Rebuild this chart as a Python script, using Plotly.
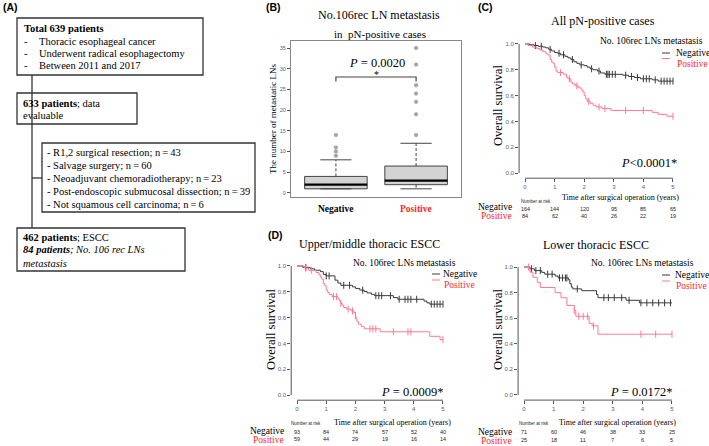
import plotly.graph_objects as go

W, H = 709, 446
SERIF = "Liberation Serif, Times New Roman, serif"
SANS = "Liberation Sans, Arial, sans-serif"
NEG_COL = "#3a3a3a"
POS_LINE = "#ff7a90"
POS_TXT = "#ff1f2f"
TICK_COL = "#506070"
AX_COL = "#555555"

# ---------------- data ----------------
# Panel B: number of metastatic LNs
categories = ["Negative", "Positive"]
box_q1 = [1, 2]
box_median = [2, 3]
box_q3 = [4, 6.5]
whisker_low = [1, 1]
whisker_high = [8, 12]
outliers_neg = [9, 10, 11, 14]
outliers_pos = [14, 19, 22, 24, 26, 31, 35]
b_yticks = [0, 5, 10, 15, 20, 25, 30, 35]

# KM time axis
time_ticks = [0, 1, 2, 3, 4, 5]
surv_ticks = [0.0, 0.2, 0.4, 0.6, 0.8, 1.0]

# Panel C: all pN-positive
c_neg_t = [0, 0.15, 0.3, 0.45, 0.6, 0.7, 0.8, 0.9, 1.0, 1.1, 1.2, 1.35, 1.45, 1.55, 1.65, 1.75, 1.85, 2.0, 2.1, 2.2,
           2.3, 2.45, 2.55, 2.7, 3.3, 3.5, 3.7, 3.9, 4.3, 4.5, 5.0]
c_neg_s = [1.0, 0.994, 0.988, 0.982, 0.976, 0.97, 0.958, 0.946, 0.934, 0.928, 0.916, 0.904, 0.892, 0.88, 0.862, 0.85,
           0.838, 0.832, 0.82, 0.808, 0.80, 0.79, 0.775, 0.765, 0.758, 0.748, 0.74, 0.73, 0.722, 0.712, 0.712]
c_neg_cens = [0.35, 0.55, 0.85, 1.15, 1.3, 1.6, 1.9, 2.25, 2.5, 2.75, 2.8, 2.85, 2.95, 3.05, 3.4, 3.6, 3.8, 4.0, 4.1,
              4.2, 4.4, 4.6, 4.7, 4.8, 4.9, 5.0]
c_pos_t = [0, 0.1, 0.25, 0.4, 0.5, 0.6, 0.7, 0.75, 0.85, 0.9, 0.95, 1.0, 1.05, 1.1, 1.3, 1.4, 1.45, 1.55, 1.6, 1.7,
           1.8, 1.9, 1.95, 2.0, 2.05, 2.1, 2.2, 2.3, 2.4, 2.6, 2.9, 4.3, 4.5, 4.8, 5.0]
c_pos_s = [1.0, 0.988, 0.976, 0.964, 0.952, 0.94, 0.928, 0.916, 0.88, 0.86, 0.85, 0.82, 0.79, 0.778, 0.766, 0.742,
           0.73, 0.705, 0.69, 0.675, 0.66, 0.645, 0.63, 0.60, 0.575, 0.555, 0.54, 0.525, 0.512, 0.50, 0.485, 0.47,
           0.455, 0.44, 0.44]
c_pos_cens = [1.2, 1.5, 1.75, 2.15, 2.5, 2.7, 3.4, 4.0, 5.0]
risk_c_neg = [164, 144, 120, 95, 85, 65]
risk_c_pos = [84, 62, 40, 26, 22, 19]

# Panel D left: upper/middle thoracic
dl_neg_t = [0, 0.2, 0.45, 0.6, 0.8, 0.9, 1.0, 1.3, 1.4, 1.5, 1.9, 2.0, 2.15, 2.3, 2.4, 2.55, 2.65, 3.3, 3.45, 4.35,
            4.45, 4.55, 5.0]
dl_neg_s = [1.0, 0.989, 0.978, 0.967, 0.956, 0.934, 0.923, 0.89, 0.868, 0.85, 0.838, 0.826, 0.813, 0.802, 0.791,
            0.78, 0.77, 0.755, 0.742, 0.728, 0.714, 0.704, 0.704]
dl_neg_cens = [0.3, 1.0, 1.1, 1.6, 1.8, 2.25, 2.7, 2.8, 2.9, 3.2, 3.5, 3.7, 3.8, 3.9, 4.1, 4.6, 4.7, 4.8, 4.9, 5.0]
dl_pos_t = [0, 0.25, 0.4, 0.65, 0.75, 0.8, 0.85, 0.9, 0.95, 1.0, 1.05, 1.1, 1.2, 1.4, 1.45, 1.5, 1.55, 1.6, 1.7,
            1.85, 1.95, 2.0, 2.02, 2.05, 2.1, 2.2, 2.3, 2.85, 4.55, 4.9, 5.0]
dl_pos_s = [1.0, 0.983, 0.966, 0.949, 0.932, 0.915, 0.898, 0.864, 0.847, 0.813, 0.796, 0.78, 0.763, 0.746, 0.73,
            0.71, 0.695, 0.678, 0.665, 0.652, 0.64, 0.615, 0.59, 0.57, 0.55, 0.532, 0.513, 0.49, 0.455, 0.43, 0.43]
dl_pos_cens = [0.3, 0.5, 1.25, 1.35, 1.5, 1.75, 1.9, 2.0, 2.5, 2.6, 2.7, 3.3, 3.8, 3.9, 5.0]
risk_dl_neg = [93, 84, 74, 57, 52, 40]
risk_dl_pos = [59, 44, 29, 19, 16, 14]

# Panel D right: lower thoracic
dr_neg_t = [0, 0.2, 0.35, 0.6, 0.7, 1.05, 1.15, 1.5, 1.55, 1.6, 1.65, 1.95, 2.45, 2.5, 3.45, 3.9, 5.0]
dr_neg_s = [1.0, 0.986, 0.972, 0.958, 0.944, 0.93, 0.915, 0.9, 0.87, 0.843, 0.829, 0.815, 0.785, 0.76, 0.74, 0.72,
            0.72]
dr_neg_cens = [0.25, 0.4, 0.55, 0.8, 0.95, 1.2, 1.3, 1.4, 1.45, 1.8, 2.7, 2.85, 3.05, 3.3, 3.55, 3.95, 4.15, 4.35,
               4.55, 4.75, 4.95]
dr_pos_t = [0, 0.2, 0.3, 0.45, 0.55, 1.05, 1.25, 1.45, 1.7, 1.75, 2.2, 2.3, 2.5, 5.0]
dr_pos_s = [1.0, 0.96, 0.92, 0.88, 0.84, 0.80, 0.76, 0.70, 0.66, 0.615, 0.56, 0.54, 0.475, 0.475]
dr_pos_cens = [0.15, 1.7, 1.85, 2.0, 2.15, 2.35, 3.95, 4.45, 5.0]
risk_dr_neg = [71, 60, 46, 38, 33, 25]
risk_dr_pos = [25, 18, 11, 7, 6, 5]

# ---------------- helpers ----------------
def px(x):
    return x / W


def py(y):
    return 1 - y / H


fig = go.Figure()
shapes = []
ann = []


def text(x, y, s, size=10.5, anchor="left", color="black", family=SERIF, angle=0):
    ann.append(dict(x=px(x), y=py(y), xref="paper", yref="paper", text=s, showarrow=False,
                    xanchor=anchor, yanchor="middle", textangle=angle, borderpad=0,
                    font=dict(size=size, color=color, family=family)))


def rect(x0, y0, x1, y1):
    shapes.append(dict(type="rect", xref="paper", yref="paper", x0=px(x0), x1=px(x1), y0=py(y1), y1=py(y0),
                       line=dict(color="#333333", width=1.3), fillcolor="rgba(0,0,0,0)"))


def pline(x0, y0, x1, y1, color="#333333", width=1.3):
    shapes.append(dict(type="line", xref="paper", yref="paper", x0=px(x0), x1=px(x1), y0=py(y0), y1=py(y1),
                       line=dict(color=color, width=width)))


# ---------------- Panel A ----------------
text(2, 7, "<b>(A)</b>", size=10.5, family=SANS)
rect(17, 18, 203, 75)
text(23, 28.5, "<b>Total 639 patients</b>")
for yy, s in zip([41, 53.5, 65.5], ["Thoracic esophageal cancer", "Underwent radical esophagectomy",
                                     "Between 2011 and 2017"]):
    text(23, yy, "-")
    text(38, yy, s)
rect(17, 93, 137, 124)
text(22, 103, "<b>633 patients</b>; data")
text(22, 115.5, "evaluable")
rect(42, 143, 255, 212)
excl = ["R1,2 surgical resection; n\u2009=\u200943", "Salvage surgery; n\u2009=\u200960",
        "Neoadjuvant chemoradiotherapy; n\u2009=\u200923",
        "Post-endoscopic submucosal dissection; n\u2009=\u200939",
        "Not squamous cell carcinoma; n\u2009=\u20096"]
for yy, s in zip([152, 165, 178, 191, 204], excl):
    text(46, yy, "- " + s)
rect(17, 228, 185, 271)
text(22, 237, "<b>462 patients</b>; ESCC")
text(22, 250, "<b><i>84 patients</i></b><i>; No. 106 rec LNs</i>")
text(22, 263, "<i>metastasis</i>")
pline(32, 75, 32, 228)
pline(32, 178, 42, 178)

# ---------------- Panel B ----------------
half_w = 0.39
cap_w = 0.195
for i, cat in enumerate(categories):
    xc = i + 1
    fig.add_trace(go.Scatter(x=[xc - half_w, xc + half_w, xc + half_w, xc - half_w, xc - half_w],
                             y=[box_q1[i], box_q1[i], box_q3[i], box_q3[i], box_q1[i]],
                             mode="lines", fill="toself", fillcolor="#d3d3d3",
                             line=dict(color="#444444", width=1), xaxis="x", yaxis="y", hoverinfo="skip"))
    fig.add_trace(go.Scatter(x=[xc - half_w, xc + half_w], y=[box_median[i], box_median[i]], mode="lines",
                             line=dict(color="black", width=2.2), xaxis="x", yaxis="y"))
    fig.add_trace(go.Scatter(x=[xc, xc, None, xc, xc], y=[box_q3[i], whisker_high[i], None, box_q1[i],
                                                           whisker_low[i]],
                             mode="lines", line=dict(color="#444444", width=1, dash="3px,2px"),
                             xaxis="x", yaxis="y"))
    fig.add_trace(go.Scatter(x=[xc - cap_w, xc + cap_w, None, xc - cap_w, xc + cap_w],
                             y=[whisker_high[i], whisker_high[i], None, whisker_low[i], whisker_low[i]],
                             mode="lines", line=dict(color="#444444", width=1), xaxis="x", yaxis="y"))
for i, outs in enumerate([outliers_neg, outliers_pos]):
    fig.add_trace(go.Scatter(x=[i + 1] * len(outs), y=outs, mode="markers",
                             marker=dict(size=3.5, color="#a8a8a8", line=dict(color="#888888", width=0.5)),
                             xaxis="x", yaxis="y"))
bracket_top, bracket_foot = 28, 26.9
fig.add_trace(go.Scatter(x=[1, 1, 2, 2], y=[bracket_foot, bracket_top, bracket_top, bracket_foot], mode="lines",
                         line=dict(color="#444444", width=1.2), xaxis="x", yaxis="y"))

text(265, 7, "<b>(B)</b>", size=10.5, family=SANS)
text(379, 15, "No.106rec LN metastasis", size=12, anchor="center")
text(380, 34, "in  pN-positive cases", size=11, anchor="center")
text(273, 119, "The number of metastatic LNs", size=9, anchor="center", angle=-90)
text(377, 63, "<i>P</i> = 0.0020", size=12.5, anchor="center")
text(377, 74, "*", size=10, anchor="center")
for i, cat in enumerate(categories):
    ann.append(dict(x=i + 1, y=py(209), xref="x", yref="paper", text="<b>%s</b>" % cat, showarrow=False,
                    xanchor="center", yanchor="middle",
                    font=dict(size=9.5, family=SERIF, color="black" if i == 0 else POS_TXT)))


# ---------------- KM panels ----------------
def surv_at(times, survs, t):
    v = survs[0]
    for tt, ss in zip(times, survs):
        if tt <= t + 1e-9:
            v = ss
    return v


def km_panel(n, curves, risk_neg, risk_pos, geo):
    xa, ya = "x%d" % n, "y%d" % n
    for (tt, ss, cens, col) in curves:
        fig.add_trace(go.Scatter(x=tt, y=ss, mode="lines", line=dict(color=col, width=1, shape="hv"),
                                 xaxis=xa, yaxis=ya))
        fig.add_trace(go.Scatter(x=cens, y=[surv_at(tt, ss, c) for c in cens], mode="markers",
                                 marker=dict(symbol="line-ns-open", size=5, color=col,
                                             line=dict(color=col, width=1)),
                                 xaxis=xa, yaxis=ya))
    shapes.append(dict(type="line", xref=xa + " domain", yref=ya, x0=0, x1=0, y0=surv_ticks[0], y1=surv_ticks[-1],
                       line=dict(color=AX_COL, width=1)))
    shapes.append(dict(type="line", xref=xa, yref=ya + " domain", x0=time_ticks[0], x1=time_ticks[-1], y0=0, y1=0,
                       line=dict(color=AX_COL, width=1)))
    # risk table
    for t, v in zip(time_ticks, risk_neg):
        ann.append(dict(x=t, y=py(geo["r1"]), xref=xa, yref="paper", text=str(v), showarrow=False,
                        xanchor="center", yanchor="middle", font=dict(size=5.5, family=SANS, color="#222")))
    for t, v in zip(time_ticks, risk_pos):
        ann.append(dict(x=t, y=py(geo["r2"]), xref=xa, yref="paper", text=str(v), showarrow=False,
                        xanchor="center", yanchor="middle", font=dict(size=5.5, family=SANS, color="#222")))
    text(geo["lab_r"], geo["l1"], "Negative", size=9.5, anchor="right")
    text(geo["lab_r"], geo["l2"], "Positive", size=9.5, anchor="right", color=POS_TXT)
    text(geo["nar_x"], geo["nar_y"], "Number at risk", size=4.5, family=SANS, color="#222")
    text(geo["title_x"], geo["title_y"], geo["title"], size=12, anchor="center")
    text(geo["yt_x"], geo["yt_y"], "Overall survival", size=12.5, anchor="center", angle=-90)
    text(geo["xt_x"], geo["xt_y"], "Time after surgical operation (years)", size=8, anchor="center")
    text(geo["lh_x"], geo["lh_y"], "No. 106rec LNs metastasis", size=9.5, anchor="center")
    pline(geo["ll_x0"], geo["ln_y"], geo["ll_x0"] + 8, geo["ln_y"], color=NEG_COL, width=1)
    text(geo["lt_x"], geo["ln_y"], "Negative", size=9.5)
    pline(geo["ll_x0"], geo["lp_y"] - 5, geo["ll_x0"] + 8, geo["lp_y"] - 5, color=POS_LINE, width=1)
    text(geo["lt_x"] + 1, geo["lp_y"], "Positive", size=9.5, color=POS_TXT)
    text(geo["p_x"], geo["p_y"], geo["p"], size=12.5, anchor="right")


km_panel(2, [(c_neg_t, c_neg_s, c_neg_cens, NEG_COL), (c_pos_t, c_pos_s, c_pos_cens, POS_LINE)],
         risk_c_neg, risk_c_pos,
         dict(r1=208.5, r2=215.5, l1=207, l2=216, lab_r=513, nar_x=520, nar_y=201,
              title="All pN-positive cases", title_x=603, title_y=21, yt_x=498, yt_y=106,
              xt_x=620, xt_y=198, lh_x=651, lh_y=41, ll_x0=662, ln_y=53, lp_y=63.5, lt_x=675,
              p="<i>P</i>&lt;0.0001*", p_x=678, p_y=163))
km_panel(3, [(dl_neg_t, dl_neg_s, dl_neg_cens, NEG_COL), (dl_pos_t, dl_pos_s, dl_pos_cens, POS_LINE)],
         risk_dl_neg, risk_dl_pos,
         dict(r1=432, r2=439, l1=431, l2=439.5, lab_r=285, nar_x=290, nar_y=423,
              title="Upper/middle thoracic ESCC", title_x=369, title_y=244, yt_x=271, yt_y=330,
              xt_x=392, xt_y=422, lh_x=404, lh_y=263, ll_x0=432, ln_y=274, lp_y=285, lt_x=442,
              p="<i>P</i> = 0.0009*", p_x=445, p_y=392))
km_panel(4, [(dr_neg_t, dr_neg_s, dr_neg_cens, NEG_COL), (dr_pos_t, dr_pos_s, dr_pos_cens, POS_LINE)],
         risk_dr_neg, risk_dr_pos,
         dict(r1=432, r2=439.5, l1=431.5, l2=440.5, lab_r=513, nar_x=518, nar_y=423,
              title="Lower thoracic ESCC", title_x=595.5, title_y=245, yt_x=498, yt_y=330,
              xt_x=617.5, xt_y=422, lh_x=642, lh_y=263, ll_x0=662, ln_y=275, lp_y=286, lt_x=674,
              p="<i>P</i> = 0.0172*", p_x=674, p_y=392))
text(267, 235, "<b>(D)</b>", size=10.5, family=SANS)
text(477, 7, "<b>(C)</b>", size=10.5, family=SANS)

# ---------------- axes ----------------
tickfont = dict(size=6, color=TICK_COL, family=SANS)


def km_axes(xd, yd, anchor_x, anchor_y):
    xa = dict(domain=[px(xd[0]), px(xd[1])], range=[-0.2, 5.2], tickvals=time_ticks, ticks="outside", ticklen=3,
              tickcolor=AX_COL, tickfont=tickfont, showgrid=False, zeroline=False, showline=False,
              anchor=anchor_y)
    ya = dict(domain=[py(yd[1]), py(yd[0])], range=[-0.04, 1.04], tickvals=surv_ticks,
              ticktext=["%.1f" % v for v in surv_ticks], ticks="outside", ticklen=3, tickcolor=AX_COL,
              tickfont=tickfont, showgrid=False, zeroline=False, showline=False, anchor=anchor_x)
    return xa, ya


xa2, ya2 = km_axes((519.1, 678.9), (38.8, 178.2), "x2", "y2")
xa3, ya3 = km_axes((291.2, 448.8), (260.8, 400.2), "x3", "y3")
xa4, ya4 = km_axes((518.1, 677.9), (261.9, 400.1), "x4", "y4")

fig.update_layout(
    width=W, height=H, autosize=False, margin=dict(l=0, r=0, t=0, b=0),
    paper_bgcolor="white", plot_bgcolor="white", showlegend=False,
    xaxis=dict(domain=[px(291), px(461)], range=[0.44, 2.56], showticklabels=False, ticks="", showgrid=False,
               zeroline=False, showline=True, mirror=True, linecolor="#888888", linewidth=1, anchor="y"),
    yaxis=dict(domain=[py(197), py(41)], range=[-0.97, 36.69], tickvals=b_yticks, ticks="outside", ticklen=3,
               tickcolor=AX_COL, tickfont=dict(size=5.5, color=TICK_COL, family=SANS), showgrid=False,
               zeroline=False, showline=True, mirror=True, linecolor="#888888", linewidth=1, anchor="x"),
    xaxis2=xa2, yaxis2=ya2, xaxis3=xa3, yaxis3=ya3, xaxis4=xa4, yaxis4=ya4,
    shapes=shapes, annotations=ann,
)
fig.write_html("out.html", config={"displayModeBar": False},
               post_script="document.body.style.margin='0';document.body.style.overflow='hidden';")
